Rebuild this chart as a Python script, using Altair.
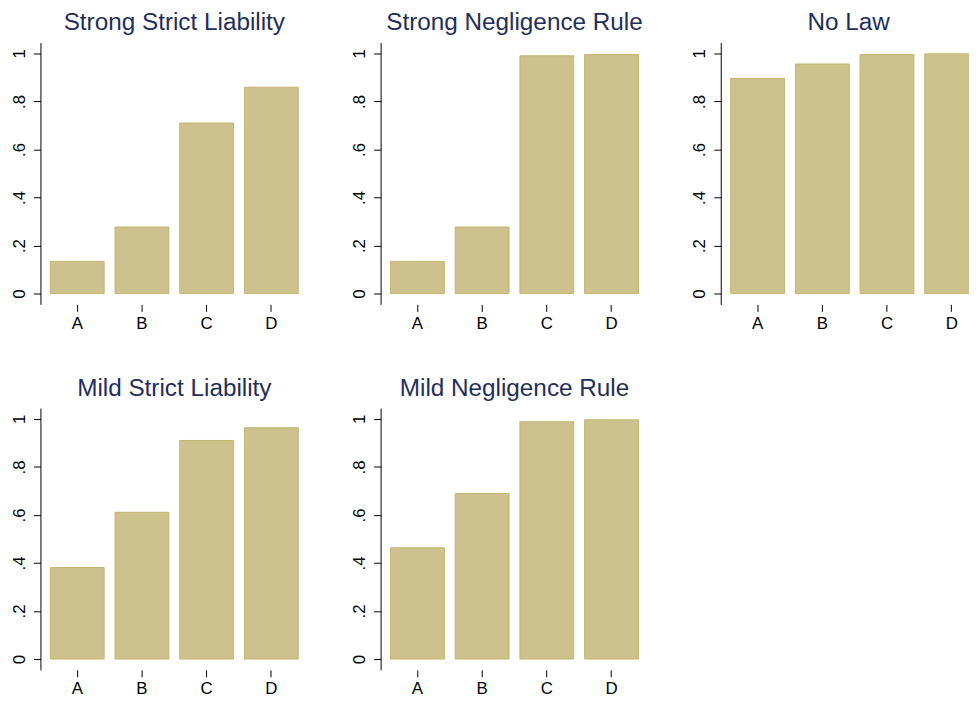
import altair as alt
import pandas as pd

categories = ["A", "B", "C", "D"]
panel_titles = [
    "Strong Strict Liability",
    "Strong Negligence Rule",
    "No Law",
    "Mild Strict Liability",
    "Mild Negligence Rule",
]
strong_strict = [0.134, 0.277, 0.710, 0.859]
strong_negligence = [0.134, 0.277, 0.990, 0.995]
no_law = [0.896, 0.956, 0.995, 0.998]
mild_strict = [0.381, 0.611, 0.910, 0.963]
mild_negligence = [0.463, 0.689, 0.988, 0.996]
y_ticks = [0, 0.2, 0.4, 0.6, 0.8, 1]

series = [strong_strict, strong_negligence, no_law, mild_strict, mild_negligence]

FONT = "Liberation Sans"
BAR_FILL = "#cdc18e"
BAR_STROKE = "#c4b46e"
TITLE_COLOR = "#1f2e5a"

label_expr = ("datum.value == 0 ? '0' : datum.value == 1 ? '1' : "
              "replace(format(datum.value, '.1f'), '0.', '.')")


def panel(title, values, view_width=270):
    df = pd.DataFrame({"cat": categories, "val": values})
    return alt.Chart(df).mark_bar(
        fill=BAR_FILL, stroke=BAR_STROKE, strokeWidth=1, clip=True
    ).encode(
        x=alt.X(
            "cat:N",
            sort=categories,
            scale=alt.Scale(paddingInner=0.168, paddingOuter=0.153, range=[0, 270]),
            axis=alt.Axis(
                title=None, labelAngle=0, domain=False, tickSize=7,
                tickColor="#000", labelFontSize=17, labelFont=FONT,
                labelColor="#000", labelPadding=4,
            ),
        ),
        y=alt.Y(
            "val:Q",
            scale=alt.Scale(domain=[-0.045, 1.045], nice=False, zero=False),
            axis=alt.Axis(
                title=None, grid=False, values=y_ticks, labelExpr=label_expr,
                labelAngle=-90, labelAlign="center", labelBaseline="alphabetic",
                labelPadding=9, tickSize=7, tickColor="#000", domainColor="#000",
                labelFontSize=17, labelFont=FONT, labelColor="#000",
            ),
        ),
        y2=alt.datum(0),
    ).properties(
        width=view_width,
        height=264,
        title=alt.TitleParams(
            title, fontSize=24.5, font=FONT, fontWeight="normal",
            color=TITLE_COLOR, baseline="alphabetic", offset=-12,
        ),
    )


panels = [
    panel(panel_titles[0], series[0]),
    panel(panel_titles[1], series[1]),
    panel(panel_titles[2], series[2], view_width=258),
    panel(panel_titles[3], series[3]),
    panel(panel_titles[4], series[4]),
]

row1 = alt.hconcat(panels[0], panels[1], panels[2], spacing=43)
row2 = alt.hconcat(panels[3], panels[4], spacing=43)
chart = alt.vconcat(row1, row2, spacing=44.5).properties(
    autosize=alt.AutoSizeParams(type="none"),
    padding={"left": 32.7, "top": 32, "right": 936.3, "bottom": 657},
    background="white",
).configure_view(strokeWidth=0)

chart.save("out.html", embed_options={"renderer": "svg", "actions": False})
